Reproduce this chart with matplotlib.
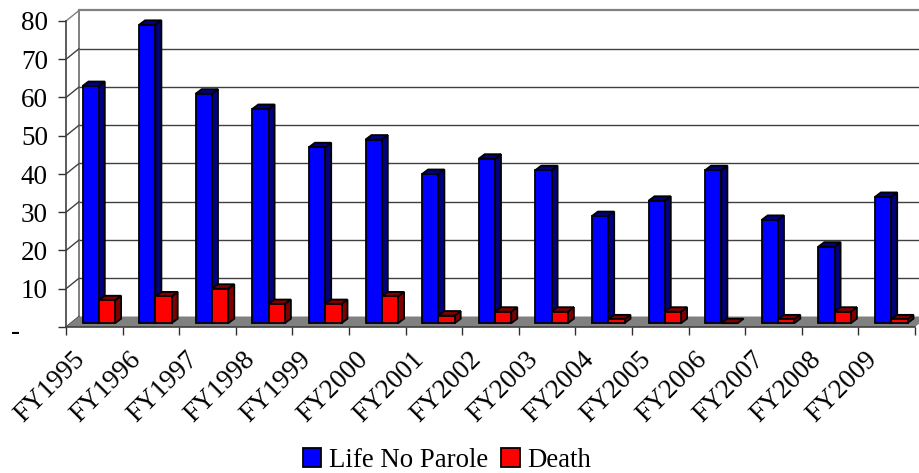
import matplotlib
matplotlib.use("Agg")
import matplotlib.pyplot as plt
from matplotlib.patches import Polygon, Patch
from matplotlib.transforms import ScaledTranslation

## Data ##
years = ["FY1995", "FY1996", "FY1997", "FY1998", "FY1999", "FY2000", "FY2001", "FY2002",
         "FY2003", "FY2004", "FY2005", "FY2006", "FY2007", "FY2008", "FY2009"]
life = [62, 78, 60, 56, 46, 48, 39, 43, 40, 28, 32, 40, 27, 20, 33]
death = [6, 7, 9, 5, 5, 7, 2, 3, 3, 1, 3, 0, 1, 3, 1]
yticks = [0, 10, 20, 30, 40, 50, 60, 70, 80]
ylabels = ["-", "10", "20", "30", "40", "50", "60", "70", "80"]

plt.rcParams['font.family'] = ['Liberation Serif', 'DejaVu Serif']

W, H = 919, 473
fig = plt.figure(figsize=(W / 100, H / 100), dpi=100)

## axes box is the front plane of the fake 3d chart ##
x0, x1, ytop, ybot = 66, 915, 21, 327
ax = fig.add_axes([x0 / W, 1 - ybot / H, (x1 - x0) / W, (ybot - ytop) / H])
ax.set_xlim(0, 15)
ax.set_ylim(0, 80)

ux = (x1 - x0) / 15.0
uy = (ybot - ytop) / 80.0
wall_dx, wall_dy = 13 / ux, 10.5 / uy    # front plane to back wall
dep_dx, dep_dy = 6 / ux, 4.5 / uy        # bar depth
base = 1.0                               # bars sit a bit behind the front edge
off = 16.5 / ux
bw = 16.3 / ux

gray = "#808080"

## walls and grid ##
for v in yticks[1:]:
    c = gray if v == 80 else "#404040"
    lw = 1.6 if v == 80 else 1.0
    ax.plot([wall_dx, 15 + wall_dx], [v + wall_dy, v + wall_dy], color=c, lw=lw, clip_on=False, zorder=1)
ax.plot([wall_dx, wall_dx], [wall_dy, 80 + wall_dy], color=gray, lw=1.4, clip_on=False, zorder=1)
for v in yticks:
    ax.plot([0, wall_dx], [v, v + wall_dy], color="#404040" if v < 80 else gray, lw=1.0, clip_on=False, zorder=1.5)

## floor ##
ax.add_patch(Polygon([(0, 0), (wall_dx, wall_dy), (15 + wall_dx, wall_dy), (15, 0)],
                     closed=True, fc=gray, ec="none", clip_on=False, zorder=2))


def bar3d(x, v, front, top, side, z):
    y0 = base
    y1 = v + base
    ec = "black"
    if v > 0:
        ax.bar(x, y1 - y0, bw, bottom=y0, align="edge", color=front, edgecolor=ec, lw=1.3, zorder=z + 0.1)
        ax.add_patch(Polygon([(x + bw, y0), (x + bw + dep_dx, y0 + dep_dy), (x + bw + dep_dx, y1 + dep_dy), (x + bw, y1)],
                             closed=True, fc=side, ec=ec, lw=1.3, clip_on=False, zorder=z))
    ax.add_patch(Polygon([(x, y1), (x + dep_dx, y1 + dep_dy), (x + bw + dep_dx, y1 + dep_dy), (x + bw, y1)],
                         closed=True, fc=top, ec=ec, lw=1.3, clip_on=False, zorder=z))


for i in range(len(years)):
    bar3d(i + off, life[i], "#0000ff", "#000080", "#000080", 3 + i * 0.01)
    bar3d(i + off + bw, death[i], "#ff0000", "#800000", "#800000", 4 + i * 0.01)

## axes ##
for s in ["top", "right"]:
    ax.spines[s].set_visible(False)
for s in ["left", "bottom"]:
    ax.spines[s].set_color("#404040")
    ax.spines[s].set_linewidth(1.2)
    ax.spines[s].set_zorder(6)
ax.patch.set_alpha(0)

ax.set_yticks(yticks)
ax.set_yticklabels(ylabels, fontsize=19.5)
ax.tick_params(axis="y", length=6, width=1.0, color="#303030", pad=7)
ax.set_xticks(range(16))
ax.set_xticks([i + 0.5 for i in range(15)], minor=True)
ax.set_xticklabels([""] * 16)
ax.set_xticklabels(years, minor=True, fontsize=19.5, rotation=45, ha="right", rotation_mode="anchor")
ax.tick_params(axis="x", which="major", length=6, width=1.0, color="#303030")
ax.tick_params(axis="x", which="minor", length=0, pad=14)

## nudge labels like the original: x labels left, dash far left ##
for lab in ax.get_xticklabels(minor=True):
    lab.set_transform(lab.get_transform() + ScaledTranslation(-22 / 100, -0.5 / 100, fig.dpi_scale_trans))
dash = ax.get_yticklabels()[0]
dash.set_transform(dash.get_transform() + ScaledTranslation(-28 / 100, -3 / 100, fig.dpi_scale_trans))

## legend ##
handles = [Patch(fc="#0000ff", ec="black", lw=1.3, label="Life No Parole"),
           Patch(fc="#ff0000", ec="black", lw=1.3, label="Death")]
fig.legend(handles=handles, loc="center", bbox_to_anchor=(447 / W, 1 - 460.5 / H), ncol=2, frameon=False,
           fontsize=19.3, handlelength=0.68, handleheight=0.68, handletextpad=0.3, columnspacing=0.5,
           borderpad=0, borderaxespad=0)

fig.savefig("out.png", dpi=100)
